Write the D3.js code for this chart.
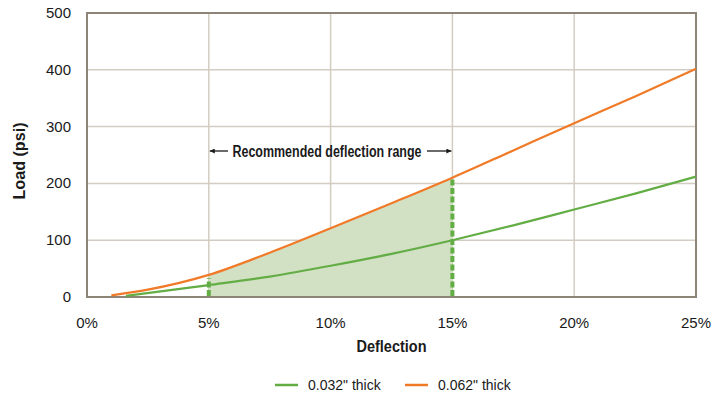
<!DOCTYPE html>
<html>
<head>
<meta charset="utf-8">
<script src="https://cdn.jsdelivr.net/npm/d3@7"></script>
<style>
  body { margin: 0; background: #fff; }
  text { font-family: "Liberation Sans", Arial, sans-serif; fill: #1a1a1a; }
</style>
</head>
<body>
<script>
// deflection (%) and load (psi)
const deflection062 = [1, 2.5, 5, 7.5, 10, 12.5, 15, 17.5, 20, 22.5, 25];
const load062 = [3, 13, 39, 78, 121, 165, 210, 258, 306, 353, 402];
const deflection032 = [1.6, 5, 7.5, 10, 12.5, 15, 17.5, 20, 22.5, 25];
const load032 = [2, 21, 36, 55, 76, 100, 126, 154, 182, 212];
const seriesNames = ['0.032" thick', '0.062" thick'];
const xTicks = [0, 5, 10, 15, 20, 25];
const yTicks = [0, 100, 200, 300, 400, 500];
const rangeStart = 5, rangeEnd = 15;

const width = 712, height = 398;
const margin = { top: 13, right: 16, bottom: 101, left: 87 };

const svg = d3.select("body").append("svg")
  .attr("width", width)
  .attr("height", height);

const x = d3.scaleLinear().domain([0, 25]).range([margin.left, width - margin.right]);
const y = d3.scaleLinear().domain([0, 500]).range([height - margin.bottom, margin.top]);

const green = "#63ad45", orange = "#f07a27";
const s032 = deflection032.map((d, i) => ({ x: d, y: load032[i] }));
const s062 = deflection062.map((d, i) => ({ x: d, y: load062[i] }));

// grid
svg.append("g").selectAll("line")
  .data(yTicks.slice(1, -1))
  .join("line")
  .attr("x1", x(0)).attr("x2", x(25))
  .attr("y1", d => y(d)).attr("y2", d => y(d))
  .attr("stroke", "#d3ccc1").attr("stroke-width", 1.5);
svg.append("g").selectAll("line")
  .data(xTicks.slice(1, -1))
  .join("line")
  .attr("x1", d => x(d)).attr("x2", d => x(d))
  .attr("y1", y(0)).attr("y2", y(500))
  .attr("stroke", "#d3ccc1").attr("stroke-width", 1.5);

// shaded recommended range under the thicker sample
const lineGen = d3.line().x(d => x(d.x)).y(d => y(d.y)).curve(d3.curveMonotoneX);
const areaGen = d3.area().x(d => x(d.x)).y0(y(0)).y1(d => y(d.y)).curve(d3.curveMonotoneX);
svg.append("path")
  .datum(s062.filter(d => d.x >= rangeStart && d.x <= rangeEnd))
  .attr("d", areaGen)
  .attr("fill", "#d2e0c4");

// frame
svg.append("rect")
  .attr("x", x(0)).attr("y", y(500))
  .attr("width", x(25) - x(0)).attr("height", y(0) - y(500))
  .attr("fill", "none").attr("stroke", "#8e8579").attr("stroke-width", 2);

// dashed range markers (the 5% one stops a little under the curve)
[rangeStart, rangeEnd].forEach(v => {
  const top = v === rangeStart ? 33 : s062.find(d => d.x === v).y;
  svg.append("line")
    .attr("x1", x(v)).attr("x2", x(v))
    .attr("y1", y(0) - 1).attr("y2", y(top))
    .attr("stroke", green).attr("stroke-width", 4)
    .attr("stroke-dasharray", "6,2.5");
});

// curves
svg.append("path").datum(s032).attr("d", lineGen)
  .attr("fill", "none").attr("stroke", green).attr("stroke-width", 2.2);
svg.append("path").datum(s062).attr("d", lineGen)
  .attr("fill", "none").attr("stroke", orange).attr("stroke-width", 2.2);

// tick labels
svg.append("g").selectAll("text")
  .data(yTicks)
  .join("text")
  .attr("x", 71).attr("y", d => y(d) + 5)
  .attr("text-anchor", "end")
  .style("font-size", "15px")
  .text(d => d);
svg.append("g").selectAll("text")
  .data(xTicks)
  .join("text")
  .attr("x", d => x(d)).attr("y", 328)
  .attr("text-anchor", "middle")
  .style("font-size", "15px")
  .text(d => d + "%");

// axis titles (condensed bold look via textLength)
svg.append("text")
  .attr("x", x(12.5)).attr("y", 352)
  .attr("text-anchor", "middle")
  .style("font-size", "17px").style("font-weight", "bold")
  .attr("textLength", 70).attr("lengthAdjust", "spacingAndGlyphs")
  .text("Deflection");
svg.append("text")
  .attr("transform", `translate(25, 161) rotate(-90)`)
  .attr("text-anchor", "middle")
  .style("font-size", "17px").style("font-weight", "bold")
  .attr("textLength", 77).attr("lengthAdjust", "spacingAndGlyphs")
  .text("Load (psi)");

// annotation
const annY = 151;
svg.append("text")
  .attr("x", 327).attr("y", annY + 6)
  .attr("text-anchor", "middle")
  .style("font-size", "16px").style("font-weight", "bold")
  .attr("textLength", 189).attr("lengthAdjust", "spacingAndGlyphs")
  .text("Recommended deflection range");
svg.append("defs").append("marker")
  .attr("id", "arr").attr("viewBox", "0 0 10 10")
  .attr("refX", 10).attr("refY", 5)
  .attr("markerWidth", 10).attr("markerHeight", 5)
  .attr("markerUnits", "userSpaceOnUse")
  .attr("orient", "auto")
  .append("path").attr("d", "M0,0L10,5L0,10Z").attr("fill", "#1a1a1a");
svg.append("line")
  .attr("x1", 228).attr("x2", x(rangeStart) + 1)
  .attr("y1", annY).attr("y2", annY)
  .attr("stroke", "#1a1a1a").attr("stroke-width", 1.3)
  .attr("marker-end", "url(#arr)");
svg.append("line")
  .attr("x1", 427).attr("x2", x(rangeEnd) - 1)
  .attr("y1", annY).attr("y2", annY)
  .attr("stroke", "#1a1a1a").attr("stroke-width", 1.3)
  .attr("marker-end", "url(#arr)");

// legend
const legend = svg.append("g").selectAll("g")
  .data(seriesNames)
  .join("g")
  .attr("transform", (d, i) => `translate(${275 + i * 130}, 385)`);
legend.append("line")
  .attr("x1", 0).attr("x2", 23)
  .attr("stroke", (d, i) => i === 0 ? green : orange)
  .attr("stroke-width", 2.5);
legend.append("text")
  .attr("x", 33).attr("y", 5)
  .style("font-size", "14px")
  .text(d => d);
</script>
</body>
</html>
